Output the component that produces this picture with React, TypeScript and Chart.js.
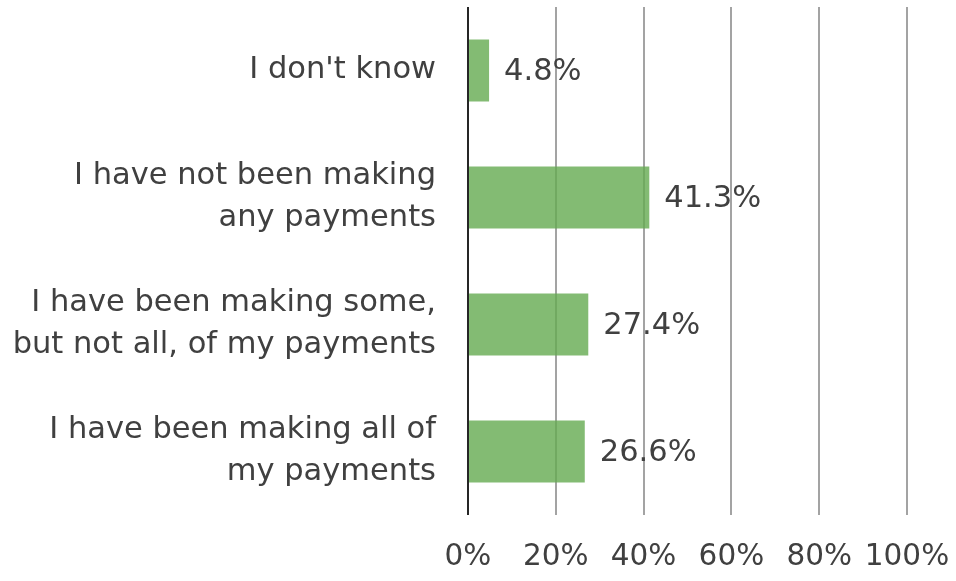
import React, { useEffect, useRef } from "react";
import { Chart, registerables } from "chart.js";

Chart.register(...registerables);

const categories: string[][] = [
  ["I don't know"],
  ["I have not been making", "any payments"],
  ["I have been making some,", "but not all, of my payments"],
  ["I have been making all of", "my payments"],
];
const values: number[] = [4.8, 41.3, 27.4, 26.6];
const tickValues: number[] = [0, 20, 40, 60, 80, 100];

const FONT = "'DejaVu Sans', Verdana, sans-serif";
const TEXT = "#404040";

export default function App() {
  const ref = useRef<HTMLCanvasElement | null>(null);
  useEffect(() => {
    if (!ref.current) return;
    const labelPlugin = {
      id: "valueLabels",
      beforeDatasetsDraw(chart: any) {
        const ctx = chart.ctx;
        const x = chart.scales.x;
        const area = chart.chartArea;
        ctx.save();
        ctx.strokeStyle = "#a3a3a3";
        ctx.lineWidth = 2;
        tickValues.slice(1).forEach((v) => {
          const px = Math.round(x.getPixelForValue(v));
          ctx.beginPath();
          ctx.moveTo(px, area.top);
          ctx.lineTo(px, area.bottom);
          ctx.stroke();
        });
        ctx.restore();
      },
      afterDatasetsDraw(chart: any) {
        const ctx = chart.ctx;
        const meta = chart.getDatasetMeta(0);
        const x = chart.scales.x;
        const area = chart.chartArea;
        ctx.save();
        ctx.font = `30.5px ${FONT}`;
        ctx.fillStyle = TEXT;
        ctx.textAlign = "left";
        ctx.textBaseline = "middle";
        meta.data.forEach((bar: any, i: number) => {
          ctx.fillText(values[i].toFixed(1) + "%", bar.x + 15, bar.y + 2);
        });
        ctx.strokeStyle = "#262626";
        ctx.lineWidth = 2;
        const z = Math.round(x.getPixelForValue(0));
        ctx.beginPath();
        ctx.moveTo(z, area.top);
        ctx.lineTo(z, area.bottom);
        ctx.stroke();
        ctx.restore();
      },
    };
    const chart = new Chart(ref.current, {
      type: "bar",
      data: {
        labels: categories,
        datasets: [
          {
            data: values,
            backgroundColor: "rgba(100,170,80,0.8)",
            borderWidth: 0,
            barPercentage: 0.49,
            categoryPercentage: 1,
          },
        ],
      },
      options: {
        indexAxis: "y",
        animation: false,
        responsive: false,
        maintainAspectRatio: false,
        layout: { padding: { top: 7, right: 49, left: 0, bottom: 0 } },
        plugins: { legend: { display: false }, tooltip: { enabled: false } },
        scales: {
          x: {
            min: 0,
            max: 100,
            afterBuildTicks(scale: any) {
              scale.ticks = tickValues.map((v) => ({ value: v }));
            },
            grid: { display: false, drawTicks: false },
            border: { display: false },
            ticks: {
              color: TEXT,
              font: { family: FONT, size: 29.5 },
              padding: 25,
              maxRotation: 0,
              autoSkip: false,
              callback: (v: any) => v + "%",
            },
            afterFit(scale: any) {
              scale.height = 66;
              scale.paddingLeft = 0;
              scale.paddingRight = 0;
            },
          },
          y: {
            grid: { display: false, drawTicks: false },
            border: { display: false },
            ticks: {
              color: TEXT,
              font: { family: FONT, size: 30.5, lineHeight: 1.38 },
              padding: 32,
              autoSkip: false,
            },
            afterFit(scale: any) {
              scale.width = 468;
              scale.paddingTop = 0;
              scale.paddingBottom = 0;
            },
          },
        },
      },
      plugins: [labelPlugin],
    } as any);
    return () => chart.destroy();
  }, []);
  return (
    <div style={{ position: "fixed", left: 0, top: 0, width: 956, height: 581, background: "#fff" }}>
      <canvas ref={ref} width={956} height={581} style={{ width: 956, height: 581 }} />
    </div>
  );
}
